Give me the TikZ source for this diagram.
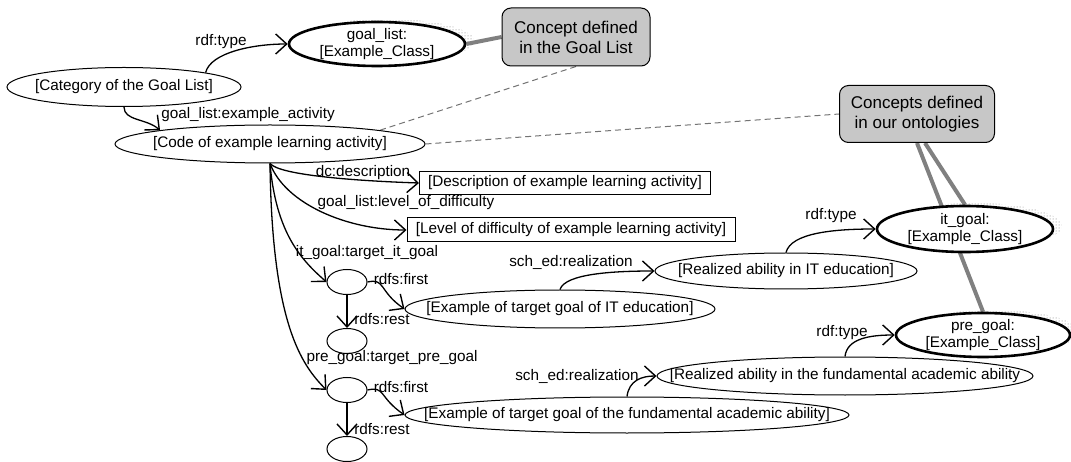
\documentclass[tikz,border=0pt]{standalone}
\usepackage{fontspec}
\setmainfont{Liberation Sans}
\usetikzlibrary{arrows.meta,shapes.geometric,patterns,backgrounds}
\begin{document}
\begin{tikzpicture}[x=1pt,y=-1pt,
  lbl/.style={font=\fontsize{15.3}{17}\selectfont, inner sep=0pt},
  el/.style={ellipse, draw, line width=1pt, fill=white, inner sep=0pt},
  tel/.style={el, line width=2.6pt},
  rbox/.style={draw, line width=1pt, fill=white, inner sep=0pt},
  gbox/.style={draw, line width=1pt, rounded corners=9pt, fill=black!22, inner sep=0pt, align=center, font=\fontsize{17}{20}\selectfont},
  arr/.style={line width=1.3pt, -{Straight Barb[length=11pt,width=20pt,line width=1.4pt]}},
  gline/.style={line width=4pt, draw=black!50},
  dline/.style={line width=1pt, draw=black!55, dash pattern=on 6pt off 4pt},
  shd/.style={pattern=dots, pattern color=black!55},
]
\useasboundingbox (0,0) rectangle (1071,462);

% ellipses
\node[el, minimum width=234pt, minimum height=39pt] (cat) at (124,87) {};
\node[lbl] (cat-t) at (cat) {[Category of the Goal List]};
\node[tel, minimum width=176pt, minimum height=44pt] (gl) at (377,44) {};
\node[lbl, align=center] (gl-t) at (gl) {goal\_list:\\{[}Example\_Class{]}};
\node[el, minimum width=310pt, minimum height=38pt] (code) at (270,144) {};
\node[lbl] (code-t) at (code) {[Code of example learning activity]};

\node[gbox, minimum width=148pt, minimum height=58pt] (box1) at (576,37) {Concept defined\\in the Goal List};
\node[gbox, minimum width=155pt, minimum height=57pt] (box2) at (917,114) {Concepts defined\\in our ontologies};

\node[rbox, minimum width=291pt, minimum height=23pt] (desc) at (565,183) {};
\node[lbl] (desc-t) at (desc) {[Description of example learning activity]};
\node[rbox, minimum width=328pt, minimum height=24pt] (lev) at (571,230) {};
\node[lbl] (lev-t) at (lev) {[Level of difficulty of example learning activity]};

\node[tel, minimum width=176pt, minimum height=46pt] (itg) at (965,229) {};
\node[lbl, align=center] (itg-t) at (itg) {it\_goal:\\{[}Example\_Class{]}};
\node[tel, minimum width=174pt, minimum height=44pt] (preg) at (983,335) {};
\node[lbl, align=center] (preg-t) at (preg) {pre\_goal:\\{[}Example\_Class{]}};

\node[el, minimum width=262pt, minimum height=36pt] (rit) at (786,271) {};
\node[lbl] (rit-t) at (rit) {[Realized ability in IT education]};
\node[el, minimum width=376pt, minimum height=38pt] (rpre) at (845,376) {};
\node[lbl] (rpre-t) at (rpre) {[Realized ability in the fundamental academic ability};
\node[el, minimum width=310pt, minimum height=38pt] (eit) at (560,309) {};
\node[lbl] (eit-t) at (eit) {[Example of target goal of IT education]};
\node[el, minimum width=444pt, minimum height=36pt] (epre) at (627,415) {};
\node[lbl] (epre-t) at (epre) {[Example of target goal of the fundamental academic ability]};

\node[el, minimum width=40pt, minimum height=25pt] (b1) at (347,282) {};
\node[el, minimum width=40pt, minimum height=25pt] (b2) at (347,341) {};
\node[el, minimum width=40pt, minimum height=25pt] (b3) at (347,390) {};
\node[el, minimum width=40pt, minimum height=25pt] (b4) at (347,449) {};

% background: shadows and grey lines
\begin{pgfonlayer}{background}
  \fill[shd] ([xshift=9pt,yshift=3pt]gl.center) ellipse (88pt and 22pt);
  \fill[shd] ([xshift=9pt,yshift=3pt]itg.center) ellipse (88pt and 23pt);
  \fill[shd] ([xshift=9pt,yshift=3pt]preg.center) ellipse (87pt and 22pt);
  \draw[gline] (gl.east) -- (box1.west);
  \draw[gline] ([xshift=8pt]box2.south) -- (itg.north);
  \draw[gline] (box2.south) -- (preg.north);
  \draw[dline] (box1.south) -- (code.north east);
  \draw[dline] (code.east) -- (box2.west);
\end{pgfonlayer}

% connectors
\draw[arr] (cat.10) .. controls +(5,-20) and +(-35,0) .. (gl.west);
\node[lbl] (l1) at (221,42) {rdf:type};
\draw[arr] (cat.south) .. controls +(0,14) and +(-14,-12) .. (code.north west);
\node[lbl] (l2) at (248,115) {goal\_list:example\_activity};

\draw[arr] (code.south) .. controls +(10,12) and +(-60,-2) .. (desc.west);
\node[lbl] (l3) at (363,173) {dc:description};
\draw[arr] (code.south) .. controls +(15,40) and +(-60,0) .. (lev.west);
\node[lbl] (l4) at (406,203) {goal\_list:level\_of\_difficulty};
\draw[arr] (code.south) .. controls +(6,70) and +(-25,-22) .. (b1.west);
\node[lbl] (l5) at (367,253) {it\_goal:target\_it\_goal};
\draw[arr] (code.south) .. controls +(2,160) and +(-25,-25) .. (b3.west);
\node[lbl] (l6) at (392,358) {pre\_goal:target\_pre\_goal};

\draw[arr] (b1.east) .. controls +(18,-4) and +(-26,-18) .. (eit.west);
\node[lbl] (l7) at (401,279) {rdfs:first};
\draw[arr] (b1.south) -- (b2.north);
\node[lbl] (l8) at (382,319) {rdfs:rest};
\draw[arr] (b3.east) .. controls +(18,-4) and +(-26,-18) .. (epre.west);
\node[lbl] (l9) at (401,387) {rdfs:first};
\draw[arr] (b3.south) -- (b4.north);
\node[lbl] (l10) at (382,429) {rdfs:rest};

\draw[arr] (eit.north) .. controls +(5,-16) and +(-40,0) .. (rit.west);
\node[lbl] (l11) at (571,262) {sch\_ed:realization};
\draw[arr] (epre.north) .. controls +(2,-16) and +(-15,0) .. (rpre.west);
\node[lbl] (l12) at (577,376) {sch\_ed:realization};

\draw[arr] (rit.north) .. controls +(5,-20) and +(-40,0) .. (itg.west);
\node[lbl] (l13) at (831,216) {rdf:type};
\draw[arr] (rpre.north) .. controls +(2,-18) and +(-25,0) .. (preg.west);
\node[lbl] (l14) at (842,333) {rdf:type};
\end{tikzpicture}
\end{document}
